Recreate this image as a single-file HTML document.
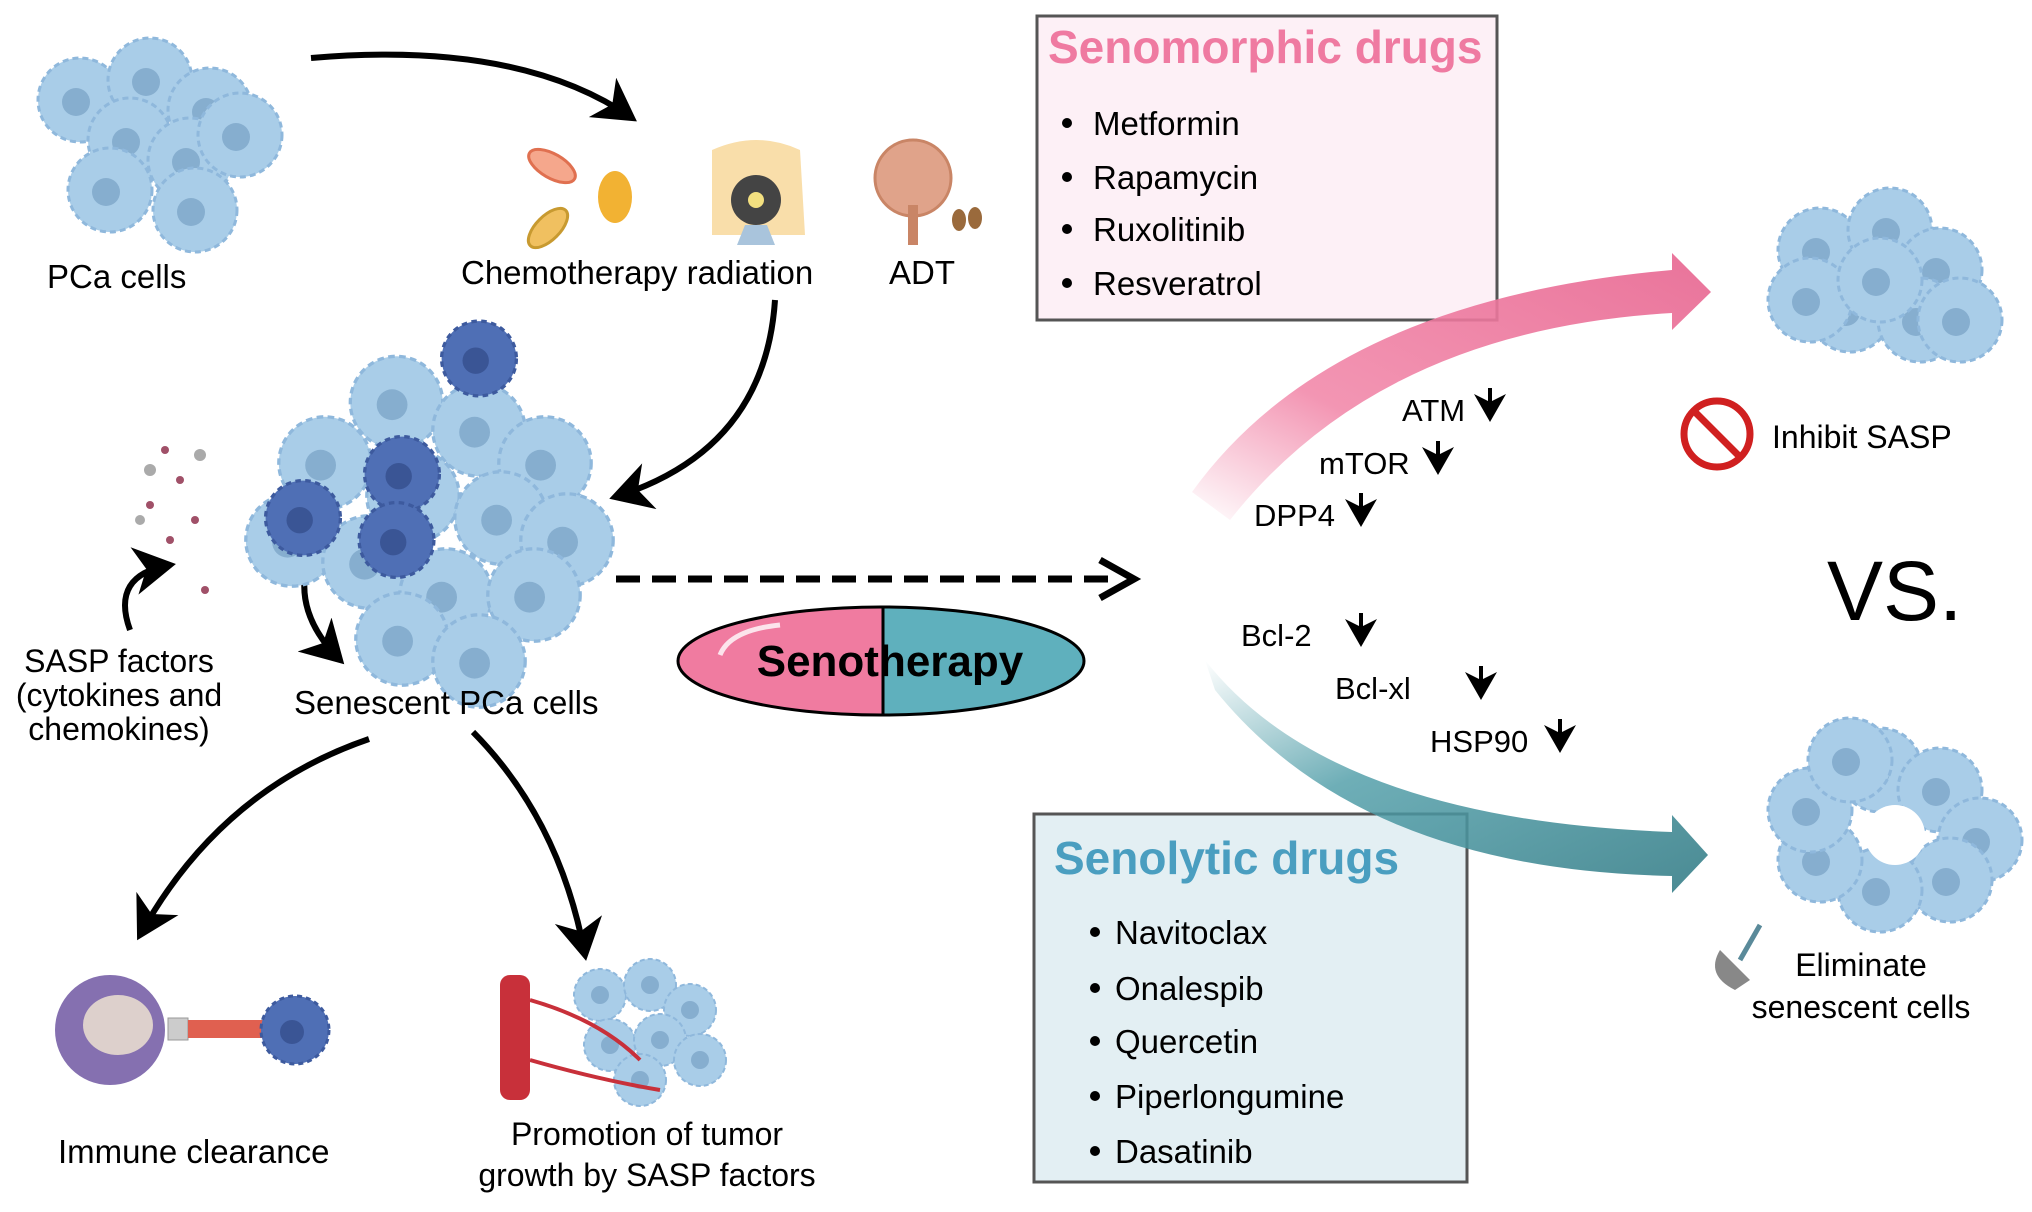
<!DOCTYPE html>
<html><head><meta charset="utf-8"><style>
body{margin:0;background:#fff}
svg text{font-family:"Liberation Sans",Arial,sans-serif}
</style></head><body>
<svg width="2032" height="1207" viewBox="0 0 2032 1207" xmlns="http://www.w3.org/2000/svg">
<defs>
<marker id="ah" markerWidth="8" markerHeight="8" refX="6" refY="4" orient="auto" markerUnits="strokeWidth"><path d="M0,0 L7,4 L0,8 L2,4 z" fill="#000"/></marker>
<linearGradient id="pk" x1="0" y1="1" x2="1" y2="0"><stop offset="0" stop-color="#f07ba0" stop-opacity="0"/><stop offset="0.35" stop-color="#f07ba0" stop-opacity="0.8"/><stop offset="1" stop-color="#e9739a"/></linearGradient>
<linearGradient id="tl" x1="0" y1="0" x2="1" y2="1"><stop offset="0" stop-color="#4a9aa5" stop-opacity="0"/><stop offset="0.4" stop-color="#4a9aa5" stop-opacity="0.8"/><stop offset="1" stop-color="#4a8a93"/></linearGradient>
<g id="cell"><circle r="42" fill="#a9cde8" stroke="#8fb8dc" stroke-width="3" stroke-dasharray="6 4"/><circle r="14" fill="#86aecf" cx="-4" cy="2"/></g>
<g id="scell"><circle r="26" fill="#a9cde8" stroke="#8fb8dc" stroke-width="2" stroke-dasharray="5 3"/><circle r="9" fill="#86aecf"/></g>
<g id="dcell"><circle r="34" fill="#4f6fb5" stroke="#3d5a9e" stroke-width="3" stroke-dasharray="5 4"/><circle r="12" fill="#3a5595" cx="-3" cy="2"/></g>
</defs>

<g>
<use href="#cell" x="80" y="100"/><use href="#cell" x="150" y="80"/><use href="#cell" x="210" y="110"/>
<use href="#cell" x="130" y="140"/><use href="#cell" x="190" y="160"/><use href="#cell" x="110" y="190"/><use href="#cell" x="195" y="210"/><use href="#cell" x="240" y="135"/>
</g>
<text x="47" y="288" font-size="33">PCa cells</text>

<ellipse cx="552" cy="166" rx="26" ry="12" fill="#f5a78c" stroke="#e07050" stroke-width="3" transform="rotate(30 552 166)"/>
<ellipse cx="548" cy="228" rx="25" ry="12" fill="#f0c060" stroke="#c89a30" stroke-width="3" transform="rotate(-45 548 228)"/>
<ellipse cx="615" cy="197" rx="17" ry="26" fill="#f2b233"/>
<path d="M712,150 Q757,130 800,150 L805,235 L712,235 z" fill="#f9deaa"/>
<circle cx="756" cy="200" r="25" fill="#444"/><circle cx="756" cy="200" r="8" fill="#f3e080"/>
<path d="M745,225 L767,225 L775,245 L737,245z" fill="#a9c4dc"/>
<circle cx="913" cy="178" r="38" fill="#e0a38a" stroke="#c98566" stroke-width="3"/>
<rect x="908" y="205" width="10" height="40" fill="#c98566"/>
<ellipse cx="959" cy="220" rx="7" ry="11" fill="#9a6a3c"/><ellipse cx="975" cy="218" rx="7" ry="11" fill="#9a6a3c"/>
<text x="461" y="284" font-size="33">Chemotherapy radiation</text>
<text x="889" y="284" font-size="33">ADT</text>

<g fill="none" stroke="#000" stroke-width="6" marker-end="url(#ah)">
<path d="M311,58 Q520,40 632,118"/>
<path d="M775,300 Q765,450 615,497"/>
<path d="M369,739 Q220,790 140,935"/>
<path d="M473,732 Q560,820 585,955"/>
<path d="M310,555 Q290,610 340,660"/>
<path d="M130,630 Q110,575 170,565"/>
</g>

<g transform="translate(83,78) scale(1.1)">
<use href="#cell" x="285" y="295"/><use href="#cell" x="360" y="320"/><use href="#cell" x="420" y="350"/>
<use href="#cell" x="220" y="350"/><use href="#cell" x="300" y="380"/><use href="#cell" x="380" y="400"/><use href="#cell" x="440" y="420"/>
<use href="#cell" x="190" y="420"/><use href="#cell" x="260" y="440"/><use href="#cell" x="330" y="470"/><use href="#cell" x="410" y="470"/><use href="#cell" x="290" y="510"/><use href="#cell" x="360" y="530"/>
<use href="#dcell" x="290" y="360"/><use href="#dcell" x="285" y="420"/><use href="#dcell" x="200" y="400"/><use href="#dcell" x="360" y="255"/>
</g>
<g fill="#a05068"><circle cx="165" cy="450" r="4"/><circle cx="180" cy="480" r="4"/><circle cx="150" cy="505" r="4"/><circle cx="170" cy="540" r="4"/><circle cx="195" cy="520" r="4"/><circle cx="205" cy="590" r="4"/></g>
<g fill="#aaa"><circle cx="150" cy="470" r="6"/><circle cx="140" cy="520" r="5"/><circle cx="200" cy="455" r="6"/></g>
<text x="119" y="672" font-size="32" text-anchor="middle">SASP factors</text>
<text x="119" y="706" font-size="32" text-anchor="middle">(cytokines and</text>
<text x="119" y="740" font-size="32" text-anchor="middle">chemokines)</text>
<text x="294" y="714" font-size="33">Senescent PCa cells</text>

<circle cx="110" cy="1030" r="55" fill="#8570b0"/><ellipse cx="118" cy="1025" rx="35" ry="30" fill="#ddd0cc"/>
<rect x="168" y="1018" width="20" height="22" fill="#ccc" stroke="#999"/>
<path d="M188,1020 L270,1020 L270,1010 L290,1029 L270,1048 L270,1038 L188,1038z" fill="#e06050"/>
<use href="#dcell" x="295" y="1030"/>
<text x="58" y="1163" font-size="33">Immune clearance</text>

<rect x="500" y="975" width="30" height="125" rx="10" fill="#c8303a"/>
<use href="#scell" x="600" y="995"/><use href="#scell" x="650" y="985"/><use href="#scell" x="690" y="1010"/>
<use href="#scell" x="610" y="1045"/><use href="#scell" x="660" y="1040"/><use href="#scell" x="700" y="1060"/><use href="#scell" x="640" y="1080"/>
<path d="M530,1000 Q600,1020 640,1060 M530,1060 Q600,1080 660,1090" stroke="#c8303a" stroke-width="4" fill="none"/>
<text x="647" y="1145" font-size="32" text-anchor="middle">Promotion of tumor</text>
<text x="647" y="1186" font-size="32" text-anchor="middle">growth by SASP factors</text>

<line x1="616" y1="579" x2="1120" y2="579" stroke="#000" stroke-width="7" stroke-dasharray="24 12"/>
<path d="M1100,560 L1134,579 L1100,598" fill="none" stroke="#000" stroke-width="7"/>

<clipPath id="el"><ellipse cx="881" cy="661" rx="203" ry="54"/></clipPath>
<g clip-path="url(#el)"><rect x="678" y="600" width="205" height="130" fill="#f07ba0"/><rect x="883" y="600" width="205" height="130" fill="#5fb0bd"/></g>
<ellipse cx="881" cy="661" rx="203" ry="54" fill="none" stroke="#000" stroke-width="3"/>
<line x1="883" y1="607" x2="883" y2="715" stroke="#000" stroke-width="3"/>
<path d="M720,655 Q730,630 780,625" stroke="#fff" stroke-width="5" fill="none" opacity="0.8"/>
<text x="890" y="676" font-size="44" font-weight="bold" text-anchor="middle">Senotherapy</text>

<rect x="1037" y="16" width="460" height="304" fill="#fdf0f6" stroke="#555" stroke-width="3"/>
<text x="1048" y="63" font-size="46" font-weight="bold" fill="#ef7aa1">Senomorphic drugs</text>
<g font-size="33"><text x="1093" y="135">Metformin</text><text x="1093" y="189">Rapamycin</text><text x="1093" y="241">Ruxolitinib</text><text x="1093" y="295">Resveratrol</text></g>
<g fill="#000"><circle cx="1067" cy="123" r="5"/><circle cx="1067" cy="177" r="5"/><circle cx="1067" cy="229" r="5"/><circle cx="1067" cy="283" r="5"/></g>

<rect x="1034" y="814" width="433" height="368" fill="#e3eff3" stroke="#555" stroke-width="3"/>
<text x="1054" y="874" font-size="46" font-weight="bold" fill="#4a9ec0">Senolytic drugs</text>
<g font-size="33"><text x="1115" y="944">Navitoclax</text><text x="1115" y="1000">Onalespib</text><text x="1115" y="1053">Quercetin</text><text x="1115" y="1108">Piperlongumine</text><text x="1115" y="1163">Dasatinib</text></g>
<g fill="#000"><circle cx="1095" cy="932" r="5"/><circle cx="1095" cy="988" r="5"/><circle cx="1095" cy="1041" r="5"/><circle cx="1095" cy="1096" r="5"/><circle cx="1095" cy="1151" r="5"/></g>

<path d="M1192,492 Q1330,300 1672,270 L1672,253 L1711,292 L1672,330 L1672,313 Q1380,330 1230,520 z" fill="url(#pk)"/>
<path d="M1205,660 Q1330,820 1672,832 L1672,815 L1708,855 L1672,893 L1672,876 Q1360,870 1215,690 z" fill="url(#tl)"/>

<g font-size="31">
<text x="1402" y="421">ATM</text><text x="1319" y="474">mTOR</text><text x="1254" y="526">DPP4</text>
<text x="1241" y="646">Bcl-2</text><text x="1335" y="699">Bcl-xl</text><text x="1430" y="752">HSP90</text>
</g>
<g stroke="#000" stroke-width="4" fill="none" marker-end="url(#ah)">
<line x1="1490" y1="388" x2="1490" y2="418"/><line x1="1438" y1="441" x2="1438" y2="471"/><line x1="1361" y1="493" x2="1361" y2="523"/>
<line x1="1361" y1="613" x2="1361" y2="643"/><line x1="1481" y1="666" x2="1481" y2="696"/><line x1="1560" y1="719" x2="1560" y2="749"/>
</g>

<g><use href="#cell" x="1820" y="250"/><use href="#cell" x="1890" y="230"/><use href="#cell" x="1940" y="270"/><use href="#cell" x="1850" y="310"/><use href="#cell" x="1920" y="320"/><use href="#cell" x="1960" y="320"/><use href="#cell" x="1810" y="300"/><use href="#cell" x="1880" y="280"/></g>
<circle cx="1717" cy="434" r="33" fill="#fff" stroke="#d02020" stroke-width="7"/><line x1="1694" y1="411" x2="1740" y2="457" stroke="#d02020" stroke-width="7"/>
<text x="1772" y="448" font-size="32">Inhibit SASP</text>
<text x="1827" y="620" font-size="84">VS.</text>
<g><use href="#cell" x="1880" y="770"/><use href="#cell" x="1940" y="790"/><use href="#cell" x="1980" y="840"/><use href="#cell" x="1950" y="880"/><use href="#cell" x="1880" y="890"/><use href="#cell" x="1820" y="860"/><use href="#cell" x="1810" y="810"/><use href="#cell" x="1850" y="760"/></g>
<circle cx="1895" cy="835" r="30" fill="#fff"/>
<path d="M1720,950 L1750,980 L1735,990 Q1705,975 1720,950z" fill="#888"/><line x1="1740" y1="960" x2="1760" y2="925" stroke="#5a8a9a" stroke-width="5"/>
<text x="1861" y="976" font-size="32" text-anchor="middle">Eliminate</text>
<text x="1861" y="1018" font-size="32" text-anchor="middle">senescent cells</text>
</svg>
</body></html>
